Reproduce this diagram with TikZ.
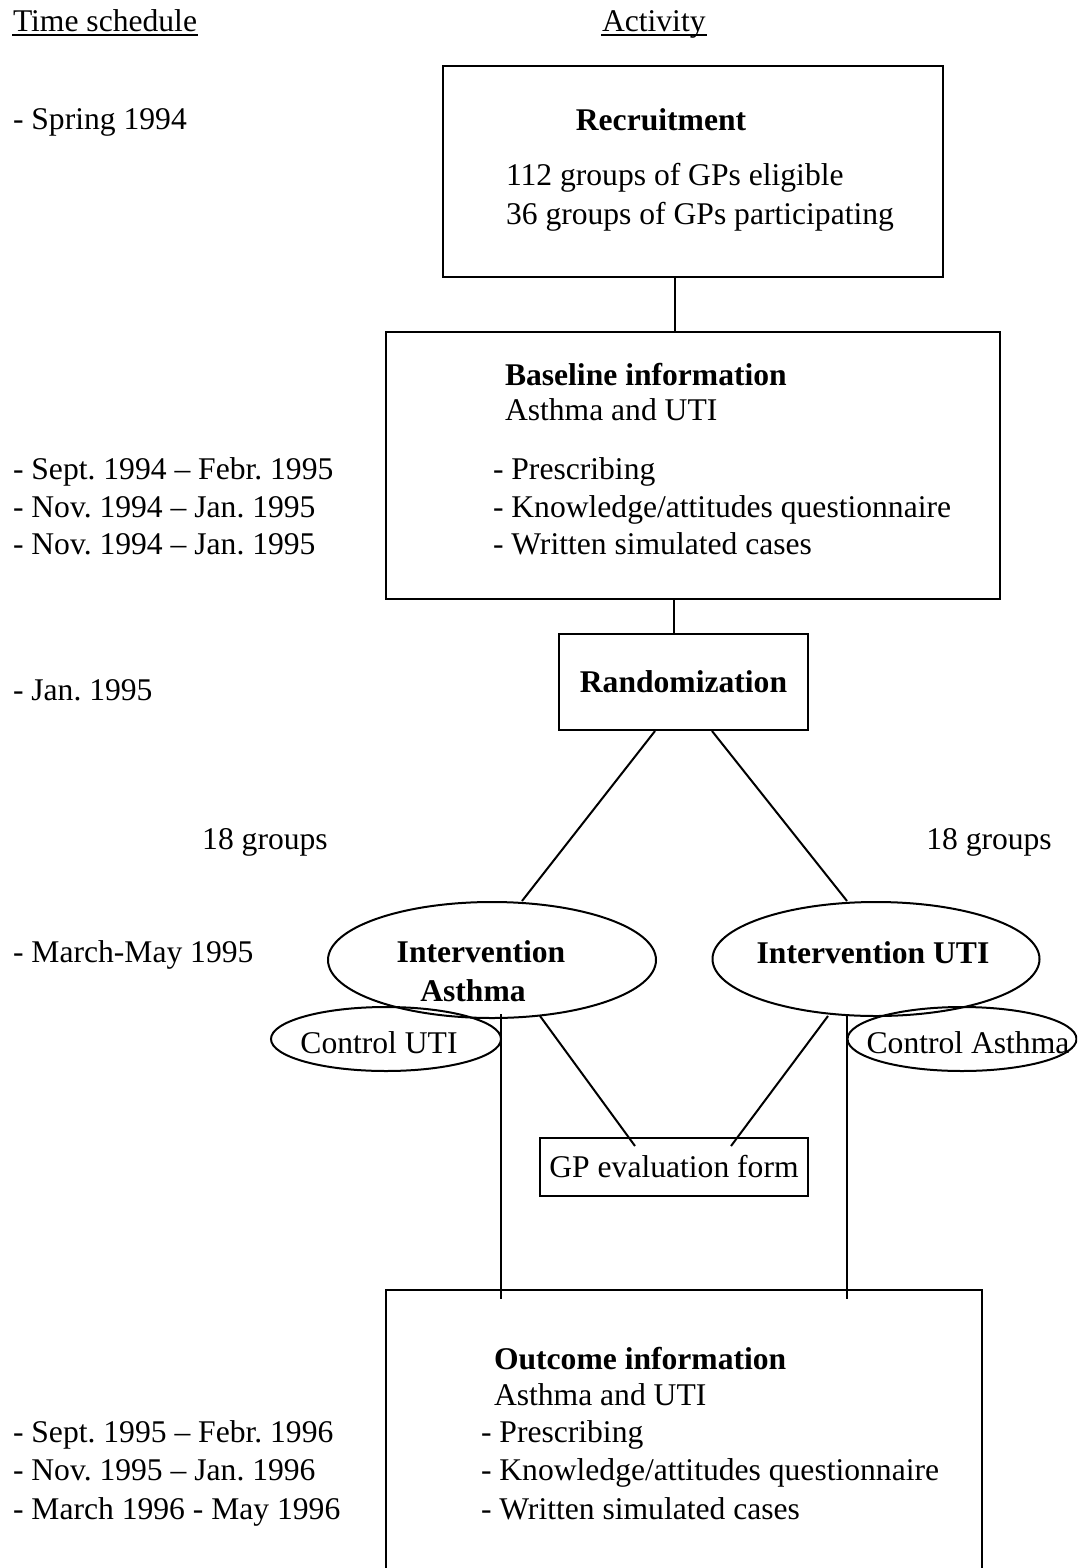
\documentclass[tikz,border=0pt]{standalone}
\usepackage{fontspec}
\setmainfont{Liberation Serif}
\usetikzlibrary{shapes.geometric}
\newcommand\dgmfont{\fontsize{15.8pt}{19pt}\selectfont}
\frenchspacing
\begin{document}
\frenchspacing
\begin{tikzpicture}[x=0.5pt,y=-0.5pt, line width=1pt,
  font=\dgmfont,
  txt/.style={inner sep=0pt, anchor=base west},
  ctxt/.style={inner sep=0pt, anchor=base},
  bold/.style={font=\dgmfont\bfseries},
  box/.style={draw, rectangle, inner sep=0pt},
  oval/.style={draw, ellipse, inner sep=0pt},
  uline/.style={line width=0.75pt}]
\clip (0,0) rectangle (1077,1568);
\fill[white] (0,0) rectangle (1077,1568);

% headings
\node[txt] (ts) at (12,32) {Time schedule};
\node[txt] (act) at (601,32) {Activity};
\draw[uline] ([yshift=-1.5pt]ts.base west) -- ([yshift=-1.5pt]ts.base east);
\draw[uline] ([yshift=-1.5pt]act.base west) -- ([yshift=-1.5pt]act.base east);

% time schedule column
\node[txt] (t1) at (12,130) {- Spring 1994};
\node[txt] (t2) at (12,479) {- Sept. 1994 – Febr. 1995};
\node[txt] (t3) at (12,517) {- Nov. 1994 – Jan. 1995};
\node[txt] (t4) at (12,554) {- Nov. 1994 – Jan. 1995};
\node[txt] (t5) at (12,700) {- Jan. 1995};
\node[txt] (t6) at (12,962) {- March-May 1995};
\node[txt] (t7) at (12,1442) {- Sept. 1995 – Febr. 1996};
\node[txt] (t8) at (12,1480) {- Nov. 1995 – Jan. 1996};
\node[txt] (t9) at (12,1519) {- March 1996 - May 1996};

% recruitment
\node[box, minimum width=250pt, minimum height=105.5pt] (recruit) at (693,171.5) {};
\node[ctxt, bold] (recruitt) at (661,131) {Recruitment};
\node[txt] (r1) at (505,185) {112 groups of GPs eligible};
\node[txt] (r2) at (505,224) {36 groups of GPs participating};

% baseline
\node[box, minimum width=307pt, minimum height=133.5pt] (baseline) at (693,465.5) {};
\node[txt, bold] (b0) at (504,385) {Baseline information};
\node[txt] (b1) at (504,420) {Asthma and UTI};
\node[txt] (b2) at (492,479) {- Prescribing};
\node[txt] (b3) at (492,517) {- Knowledge/attitudes questionnaire};
\node[txt] (b4) at (492,554) {- Written simulated cases};

% randomization
\node[box, minimum width=124.5pt, minimum height=48pt, bold] (random) at (683.5,682) {Randomization};

\node[ctxt] (g1) at (265,849) {18 groups};
\node[ctxt] (g2) at (989,849) {18 groups};

% interventions
\node[oval, minimum width=164pt, minimum height=58pt] (ia) at (492,960) {};
\node[ctxt, bold] (ia1) at (481,962) {Intervention};
\node[ctxt, bold] (ia2) at (473,1001) {Asthma};
\node[oval, minimum width=163.5pt, minimum height=57pt] (iu) at (876,959) {};
\node[ctxt, bold] (iu1) at (873,963) {Intervention UTI};
\node[oval, minimum width=115pt, minimum height=32pt] (cu) at (386,1039) {};
\node[ctxt] (cu1) at (379,1053) {Control UTI};
\node[oval, minimum width=114.5pt, minimum height=32pt] (ca) at (962,1039) {};
\node[ctxt] (ca1) at (968,1053) {Control Asthma};

% GP evaluation form
\node[box, minimum width=134pt, minimum height=29pt] (gp) at (674,1167) {GP evaluation form};

% outcome
\node[box, minimum width=298pt, minimum height=155pt] (outcome) at (684,1445) {};
\node[txt, bold] (o0) at (493,1369) {Outcome information};
\node[txt] (o1) at (493,1405) {Asthma and UTI};
\node[txt] (o2) at (480,1442) {- Prescribing};
\node[txt] (o3) at (480,1480) {- Knowledge/attitudes questionnaire};
\node[txt] (o4) at (480,1519) {- Written simulated cases};

% connectors
\draw ([xshift=-9pt]recruit.south) -- ([xshift=-9pt]baseline.north);
\draw ([xshift=-9.5pt]baseline.south) -- ([xshift=-4.75pt]random.north);
\draw ([xshift=-14.25pt]random.south) -- ([xshift=15pt]ia.north);
\draw ([xshift=14.25pt]random.south) -- ([xshift=-14.5pt]iu.north);
\draw ([shift={(4.5pt,2.5pt)}]ia.south) -- ([shift={(-91.5pt,-5pt)}]outcome.north);
\draw ([shift={(-14.5pt,1.5pt)}]iu.south) -- ([shift={(81.5pt,-5pt)}]outcome.north);
\draw ([shift={(24pt,1.5pt)}]ia.south) -- ([shift={(-19.5pt,-4.5pt)}]gp.north);
\draw ([shift={(-24pt,0.5pt)}]iu.south) -- ([shift={(28.5pt,-4.5pt)}]gp.north);
\end{tikzpicture}
\end{document}
